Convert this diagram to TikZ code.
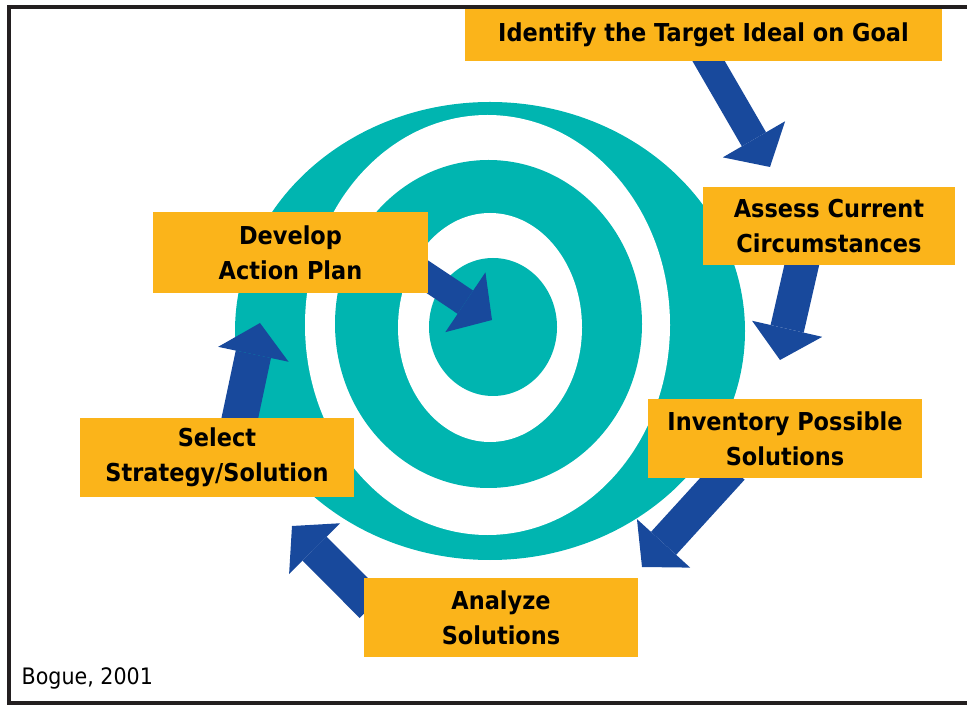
\documentclass[tikz,border=0pt]{standalone}
\usepackage{fontspec}
\setmainfont[FakeStretch=0.91]{DejaVu Sans}
\usetikzlibrary{arrows.meta}
\definecolor{ringteal}{RGB}{0,181,176}
\definecolor{stepgold}{RGB}{251,180,26}
\definecolor{arrowblue}{RGB}{24,73,156}
\definecolor{framegray}{RGB}{35,31,32}
\pgfdeclarelayer{rings}
\pgfdeclarelayer{arrows}
\pgfsetlayers{rings,arrows,main}
\tikzset{stepbox/.style={fill=stepgold, inner sep=0pt, align=center, minimum width=205.5pt, minimum height=59.25pt, font=\bfseries\fontsize{18.5}{26}\selectfont}}
\tikzset{bigarrow/.style={draw=arrowblue, line width=#1, -{Triangle[width=54pt, length=24pt, line width=0pt]}}, bigarrow/.default=25.5pt}

\begin{document}
\begin{tikzpicture}[x=0.75pt, y=-0.75pt]
    \useasboundingbox (0,0) rectangle (967,705);
    \draw[framegray, line width=3pt] (967,7) -- (9,7) -- (9,703) -- (967,703);

    % the target
    \begin{pgfonlayer}{rings}
        \foreach \col/\cx/\cy/\rx/\ry in {ringteal/490/331/255/229, white/487.5/325/182.5/210,
                ringteal/488.5/324/153.5/164, white/490/327.5/92/114.5, ringteal/493/327/64/69} {
            \fill[\col] (\cx, \cy) ellipse [x radius=\rx, y radius=\ry];
        }
    \end{pgfonlayer}

    % steps
    \node[stepbox, minimum width=357.75pt, minimum height=39pt] (identify) at (703.5, 35) {Identify the Target Ideal on Goal};
    \node[stepbox, minimum width=189pt, minimum height=58.5pt] (assess) at (829, 226) {Assess Current\\Circumstances};
    \node[stepbox] (inventory) at (785, 438.5) {Inventory Possible\\Solutions};
    \node[stepbox] (analyze) at (501, 617.5) {Analyze\\Solutions};
    \node[stepbox] (select) at (217, 457.5) {Select\\Strategy/Solution};
    \node[stepbox, minimum width=206.25pt, minimum height=60.75pt] (develop) at (290.5, 252.5) {Develop\\Action Plan};
    \node[anchor=base west, font=\fontsize{17}{20}\selectfont] (source) at (17, 684) {Bogue, 2001};

    \coordinate (toassess) at (770, 167);
    \coordinate (toinventory) at (780, 360);
    \coordinate (toanalyze) at (642, 567);
    \coordinate (toselect) at (292, 526);
    \coordinate (todevelop) at (260, 323);
    \coordinate (bullseye) at (492, 320);

    \begin{pgfonlayer}{arrows}
        \draw[bigarrow=21pt] ([shift={(0,-9)}]identify.south) -- (toassess);
        \draw[bigarrow] ([shift={(-25,-10)}]assess.south) -- (toinventory);
        \draw[bigarrow] ([shift={(-53,-10)}]inventory.south) -- (toanalyze);
        \draw[bigarrow] ([shift={(8,-11.5)}]analyze.west) -- (toselect);
        \draw[bigarrow=27pt] ([shift={(21,9)}]select.north) -- (todevelop);
        \draw[bigarrow=21pt] ([shift={(-14,15.5)}]develop.east) -- (bullseye);
    \end{pgfonlayer}
\end{tikzpicture}
\end{document}
